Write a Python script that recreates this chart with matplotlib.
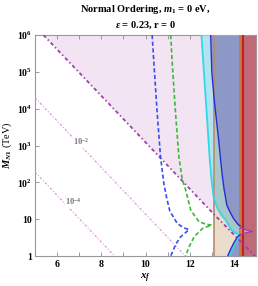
import numpy as np
import matplotlib
matplotlib.use("Agg")
import matplotlib.pyplot as plt
from matplotlib.ticker import FixedLocator, NullLocator

plt.rcParams['font.family'] = ['Liberation Serif', 'DejaVu Serif']
plt.rcParams['font.weight'] = 'bold'
plt.rcParams['mathtext.fontset'] = 'custom'
plt.rcParams['mathtext.rm'] = 'Liberation Serif:bold'
plt.rcParams['mathtext.bf'] = 'Liberation Serif:bold'
plt.rcParams['mathtext.it'] = 'Liberation Serif:italic:bold'

# datos (x_f, log10 M_N1 [TeV])
main_x = [5.38, 9.0, 13.1, 14.95]
main_logM = [6.0, 3.72, 1.13, 0.0]
cont2_x = [5.0, 11.8]
cont2_logM = [4.3, 0.0]
cont4_x = [5.0, 8.6]
cont4_logM = [2.28, 0.0]

blue_dash_x = [10.30, 10.38, 10.53, 10.68, 10.83, 10.95, 11.1, 11.44, 11.75, 11.97,
               11.75, 11.59, 11.38, 11.14]
blue_dash_logM = [6.0, 5.23, 3.87, 2.69, 1.97, 1.6, 1.22, 0.88, 0.76, 0.72,
                  0.6, 0.52, 0.33, 0.0]
green_dash_x = [11.14, 11.21, 11.36, 11.51, 11.67, 11.82, 12.05, 12.42, 12.75, 13.0,
                12.58, 12.2, 11.97, 11.82]
green_dash_logM = [6.0, 5.23, 3.87, 2.69, 2.06, 1.79, 1.24, 0.93, 0.86, 0.84,
                   0.75, 0.52, 0.25, 0.0]

cyan_x = [12.53, 12.73, 12.91, 13.0, 13.08, 13.25, 13.45, 13.6, 13.9, 14.21]
cyan_logM = [6.0, 4.23, 2.6, 2.0, 1.6, 1.3, 1.1, 1.0, 0.7, 0.57]
cyan_low_x = [13.82, 13.95, 14.1, 14.25]
cyan_low_logM = [0.0, 0.2, 0.38, 0.5]

blue_x = [12.95, 13.0, 13.1, 13.3, 13.47, 13.56, 13.68, 13.82, 13.98, 14.21, 14.29]
blue_logM = [6.0, 5.0, 4.3, 3.2, 2.2, 1.8, 1.38, 1.2, 1.02, 0.84, 0.82]
blue_low_x = [13.72, 13.85, 14.0, 14.14, 14.29]
blue_low_logM = [0.0, 0.18, 0.36, 0.5, 0.58]

spike_x = [14.29, 14.6, 14.85, 14.6, 14.29]
spike_logM = [0.76, 0.7, 0.665, 0.64, 0.58]

x_tan = [13.1, 14.29]
x_red = 14.41

xticks = [6, 8, 10, 12, 14]
yticks = [1, 10, 1e2, 1e3, 1e4, 1e5, 1e6]
ytick_labels = ['1', '10', '$10^2$', '$10^3$', '$10^4$', '$10^5$', '$10^6$']

def M(v):
    return 10 ** np.array(v)

fig = plt.figure(figsize=(2.58, 2.86), dpi=100)
ax = fig.add_axes([35/258, 30/286, 221/258, 221/286])

# regiones
ax.fill_between(main_x, M(main_logM), 1e6, color='#f2e4f2', lw=0, zorder=1)
ax.axvspan(x_tan[0], x_tan[1], color='#ecdccb', lw=0, zorder=2)
ax.axvspan(x_tan[1], 15, color='#c06a78', lw=0, zorder=2)
ax.fill_betweenx(M(cyan_logM), cyan_x, x_tan[1], color='#b3e3ef', lw=0, zorder=3)
ax.fill_betweenx(M(cyan_logM), np.maximum(cyan_x, x_tan[0]), x_tan[1],
                 color='#a7c7ca', lw=0, zorder=3)
ax.fill_betweenx(M(blue_logM), blue_x, x_tan[1], color='#8e98c6', lw=0, zorder=4)
ax.fill_betweenx(M(blue_low_logM), blue_low_x, x_tan[1], color='#8e98c6', lw=0, zorder=4)
ax.fill(spike_x, M(spike_logM), color='#dc9aa0', lw=0, zorder=4)

# lineas verticales
ax.axvline(x_tan[0], color='#b48c6c', lw=1.2, zorder=5)
ax.axvline(x_tan[1], color='#d9722a', lw=1.2, zorder=5)
ax.axvline(x_red, color='#c0202a', lw=1.5, zorder=5)

# curvas
ax.plot(cyan_x, M(cyan_logM), color='#30d8e8', lw=1.3, zorder=6)
ax.plot(cyan_low_x, M(cyan_low_logM), color='#30d8e8', lw=1.1, zorder=6)
ax.plot(blue_x, M(blue_logM), color='#2a2ad0', lw=1.0, zorder=6)
ax.plot(blue_low_x, M(blue_low_logM), color='#2a2ad0', lw=1.0, zorder=6)
ax.plot(spike_x, M(spike_logM), color='#9a3ab0', lw=0.8, zorder=6)

ax.plot(main_x, M(main_logM), color='#a03cb0', lw=1.3, ls=(0, (2, 1.5, 0.8, 1.5)), zorder=7)
ax.plot(cont2_x, M(cont2_logM), color='#dd9ade', lw=0.9, ls=(0, (2, 1.5, 0.8, 1.5)), zorder=3)
ax.plot(cont4_x, M(cont4_logM), color='#dd9ade', lw=0.9, ls=(0, (2, 1.5, 0.8, 1.5)), zorder=3)
ax.plot(blue_dash_x, M(blue_dash_logM), color='#3b4cf0', lw=1.2, ls=(0, (2.5, 1.5)), zorder=7)
ax.plot(green_dash_x, M(green_dash_logM), color='#3cb83c', lw=1.2, ls=(0, (2.5, 1.5)), zorder=7)

ax.text(7.1, 10**3.1, '$10^{-2}$', color='#777777', fontsize=6, ha='center', va='center',
        zorder=8, bbox=dict(facecolor='white', edgecolor='none', pad=0.3))
ax.text(6.75, 10**1.47, '$10^{-4}$', color='#777777', fontsize=6, ha='center', va='center',
        zorder=8, bbox=dict(facecolor='white', edgecolor='none', pad=0.3))

ax.set_xlim(5, 15)
ax.set_yscale('log')
ax.set_ylim(1, 1e6)
ax.xaxis.set_major_locator(FixedLocator(xticks))
ax.xaxis.set_minor_locator(FixedLocator(range(5, 16)))
ax.yaxis.set_major_locator(FixedLocator(yticks))
ax.yaxis.set_minor_locator(NullLocator())
ax.set_yticklabels(ytick_labels)
ax.tick_params(which='both', direction='in', top=True, right=True, color='#999999',
               length=3, width=0.7, labelsize=7)
ax.tick_params(axis='x', pad=3)
ax.tick_params(axis='y', pad=2)
for s in ax.spines.values():
    s.set_color('#999999')
    s.set_linewidth(0.8)

ax.set_xlabel('$x_f$', fontsize=8, labelpad=2)
ax.set_ylabel('$M_{N1}$ (TeV)', fontsize=7.5, labelpad=2)
ax.set_title('Normal Ordering, $m_1$ = 0 eV,\n$\\varepsilon$ = 0.23, r = 0',
             fontsize=7.5, fontweight='bold', pad=5, linespacing=1.5)

fig.savefig('out.png', dpi=100)
